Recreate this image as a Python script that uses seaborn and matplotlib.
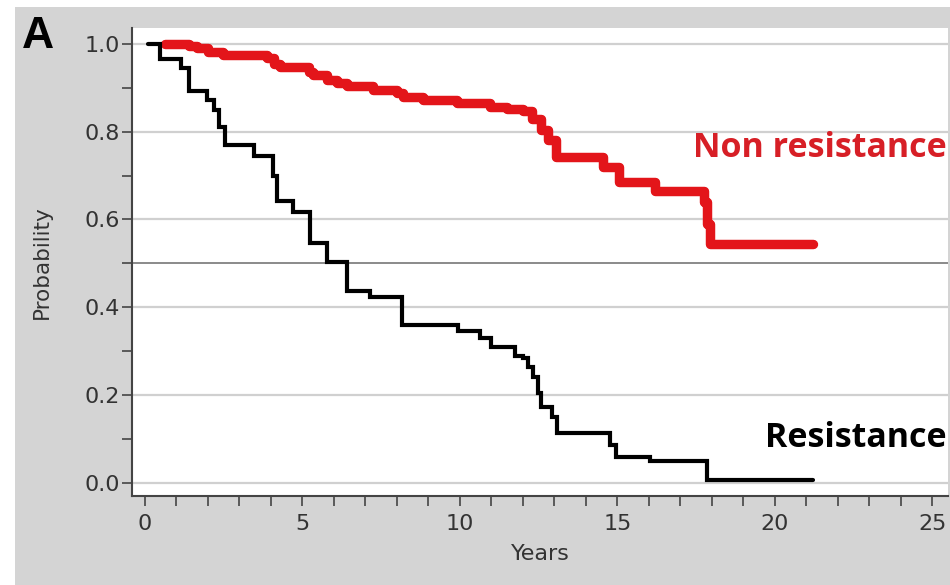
import numpy as np
import pandas as pd
import seaborn as sns
import matplotlib.pyplot as plt
from matplotlib.patches import Rectangle
from matplotlib.ticker import MultipleLocator

# Kaplan-Meier steps (years, survival probability)
res_years = [0.1, 0.48, 1.16, 1.4, 1.96, 2.2, 2.35, 2.54, 3.46, 4.07, 4.18,
             4.7, 5.24, 5.77, 6.4, 7.15, 8.15, 9.95, 10.63, 11.0, 11.75,
             12.0, 12.17, 12.33, 12.49, 12.59, 12.91, 13.07, 14.76, 14.97,
             16.03, 17.83, 21.2]
res_prob = [1.0, 0.966, 0.945, 0.893, 0.872, 0.85, 0.81, 0.77, 0.745, 0.698,
            0.641, 0.618, 0.546, 0.504, 0.436, 0.424, 0.36, 0.345, 0.33,
            0.31, 0.29, 0.284, 0.265, 0.242, 0.204, 0.174, 0.151, 0.113,
            0.087, 0.06, 0.049, 0.007, 0.007]

nonres_years = [0.63, 1.4, 1.64, 2.0, 2.49, 3.87, 4.1, 4.29, 5.2, 5.34, 5.77,
                6.1, 6.4, 7.25, 8.0, 8.2, 8.84, 9.9, 10.95, 11.5, 12.0, 12.3,
                12.59, 12.8, 13.05, 14.55, 15.05, 16.2, 17.75, 17.85, 17.95,
                21.2]
nonres_prob = [1.0, 0.995, 0.99, 0.982, 0.975, 0.967, 0.955, 0.947, 0.935,
               0.929, 0.918, 0.91, 0.903, 0.895, 0.888, 0.88, 0.872, 0.865,
               0.857, 0.851, 0.846, 0.83, 0.804, 0.78, 0.743, 0.72, 0.686,
               0.666, 0.64, 0.59, 0.545, 0.545]

x_major = [0, 5, 10, 15, 20, 25]
y_major = [0.0, 0.2, 0.4, 0.6, 0.8, 1.0]

panel_grey = '#d4d4d4'
red = '#e3151a'

sns.set_theme(style='white')
plt.rcParams['font.family'] = ['DejaVu Sans']

fig = plt.figure(figsize=(9.5, 5.85), dpi=100, facecolor='white')
fig.patches.append(Rectangle((15 / 950, 0), 1, 1 - 7 / 585, transform=fig.transFigure,
                             facecolor=panel_grey, edgecolor='none', zorder=-1))
ax = fig.add_axes([0.139, 0.152, 0.859, 0.800])
ax.set_facecolor('white')

df_res = pd.DataFrame({'Years': res_years, 'Probability': res_prob})
df_non = pd.DataFrame({'Years': nonres_years, 'Probability': nonres_prob})

# grid lines + median line
for yv in y_major:
    ax.axhline(yv, color='#d0d0d0', lw=1.6, zorder=0)
ax.axhline(0.5, color='#8a8a8a', lw=1.4, zorder=0)

sns.lineplot(data=df_non, x='Years', y='Probability', ax=ax, color=red,
             lw=6.8, drawstyle='steps-post', estimator=None, solid_joinstyle='round')
sns.lineplot(data=df_res, x='Years', y='Probability', ax=ax, color='black',
             lw=3, drawstyle='steps-post', estimator=None, solid_joinstyle='miter')

ax.set_xlim(-0.41, 25.5)
ax.set_ylim(-0.03, 1.036)
ax.set_xticks(x_major)
ax.set_yticks(y_major)
ax.xaxis.set_minor_locator(MultipleLocator(1))
ax.yaxis.set_minor_locator(MultipleLocator(0.1))
ax.set_yticklabels([f'{v:.1f}' for v in y_major])
ax.tick_params(axis='both', which='both', direction='out', length=7, width=1.2,
               color='#444444', labelsize=16, labelcolor='#333333')
ax.tick_params(axis='both', which='both', bottom=True, left=True)
ax.tick_params(axis='x', pad=6)
ax.tick_params(axis='y', pad=2)

for side in ['top', 'right']:
    ax.spines[side].set_visible(False)
for side in ['left', 'bottom']:
    ax.spines[side].set_color('#444444')
    ax.spines[side].set_linewidth(1.5)

ax.set_xlabel('Years', fontsize=16, color='#333333', labelpad=7)
ax.set_ylabel('Probability', fontsize=15.5, color='#333333', labelpad=23)

ax.text(25.45, 0.763, 'Non resistance', color='#d71f26', fontsize=24.5,
        fontweight='bold', ha='right', va='center', family=['Open Sans', 'DejaVu Sans'])
ax.text(25.45, 0.102, 'Resistance', color='black', fontsize=24.5,
        fontweight='bold', ha='right', va='center', family=['Open Sans', 'DejaVu Sans'])

fig.text(38 / 950, 1 - 36 / 585, 'A', fontsize=32, fontweight='bold',
         ha='center', va='center', color='black', family=['Liberation Sans', 'DejaVu Sans'])

fig.savefig('out.png', dpi=100, facecolor=fig.get_facecolor())
